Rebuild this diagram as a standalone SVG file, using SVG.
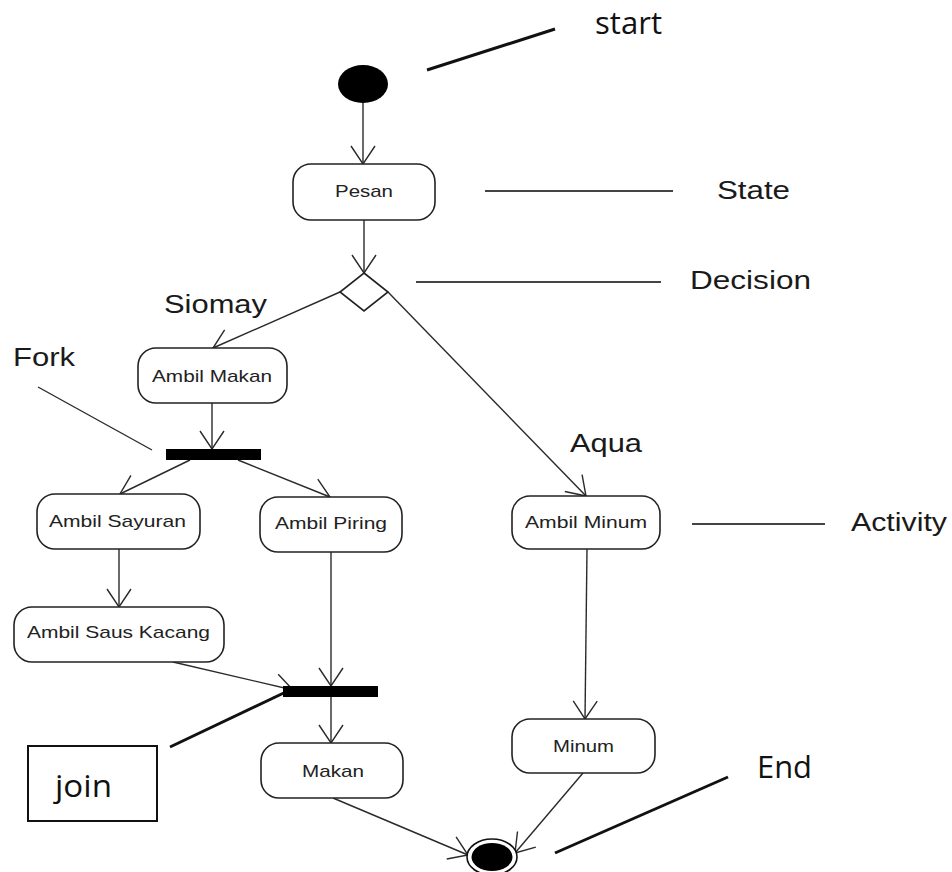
<svg xmlns="http://www.w3.org/2000/svg" width="952" height="872" viewBox="0 0 952 872">
  <defs>
    <marker id="open-arrow" markerUnits="userSpaceOnUse" markerWidth="40" markerHeight="40" viewBox="-20 -20 40 40" refX="0" refY="0" orient="auto">
      <path d="M -18,-12 L 0,0 L -18,12" fill="none" stroke="#2a2a2a" stroke-width="1.4"/>
    </marker>
    <style>
      .act { fill: #ffffff; stroke: #222222; stroke-width: 1.6; }
      .lbl { font-family: "Liberation Sans", Arial, sans-serif; font-size: 17px; fill: #222222; text-anchor: start; }
      .guard { font-family: "Liberation Sans", Arial, sans-serif; font-size: 25px; fill: #1a1a1a; }
      .note { font-family: "Open Sans", "Liberation Sans", sans-serif; font-size: 31px; fill: #111111; }
      .flow { fill: none; stroke: #2a2a2a; stroke-width: 1.4; marker-end: url(#open-arrow); }
      .plain { fill: none; stroke: #2a2a2a; stroke-width: 1.4; }
      .thin-lead { fill: none; stroke: #444444; stroke-width: 1.8; }
      .bold-lead { fill: none; stroke: #111111; stroke-width: 3; }
      .bar { fill: #000000; }
    </style>
  </defs>
  <rect width="952" height="872" fill="#ffffff"/>

  <!-- control flows -->
  <g id="connectors">
    <path class="flow" d="M 363,103 L 363,164"/>
    <path class="flow" d="M 364,220 L 364,273"/>
    <path class="flow" d="M 340,292 L 213,348"/>
    <path class="flow" d="M 388,292 L 586,496"/>
    <path class="flow" d="M 212,403 L 212,449"/>
    <path class="flow" d="M 190,460 L 120,494"/>
    <path class="flow" d="M 238,460 L 330,497"/>
    <path class="flow" d="M 119,549 L 119,607"/>
    <path class="flow" d="M 331,552 L 331,686"/>
    <path class="flow" d="M 173,662 L 293,690"/>
    <path class="flow" d="M 331,697 L 331,743"/>
    <path class="flow" d="M 587,549 L 585,719"/>
    <path class="flow" d="M 333,798 L 468,855"/>
    <path class="flow" d="M 583,773 L 515,853"/>
  </g>

  <!-- annotation leaders -->
  <g id="annotations">
    <line class="bold-lead" x1="427" y1="70" x2="555" y2="29"/>
    <line class="thin-lead" x1="485" y1="191" x2="673" y2="191"/>
    <line class="thin-lead" x1="416" y1="282" x2="661" y2="282"/>
    <line class="plain" x1="38" y1="387" x2="152" y2="450"/>
    <line class="thin-lead" x1="692" y1="524" x2="825" y2="524"/>
    <line class="bold-lead" x1="170" y1="747" x2="290" y2="690"/>
    <line class="bold-lead" x1="555" y1="853" x2="728" y2="777"/>
    <text class="note" x="595" y="34" textLength="67" lengthAdjust="spacingAndGlyphs">start</text>
    <text class="guard" x="717" y="199" textLength="73" lengthAdjust="spacingAndGlyphs">State</text>
    <text class="guard" x="690" y="289" textLength="121" lengthAdjust="spacingAndGlyphs">Decision</text>
    <text class="guard" x="13" y="366" textLength="62" lengthAdjust="spacingAndGlyphs">Fork</text>
    <text class="guard" x="851" y="531" textLength="96" lengthAdjust="spacingAndGlyphs">Activity</text>
    <text class="note" x="757" y="778" textLength="55" lengthAdjust="spacingAndGlyphs">End</text>
  </g>

  <!-- guard labels -->
  <g id="guards">
    <text class="guard" x="164" y="313" textLength="103" lengthAdjust="spacingAndGlyphs">Siomay</text>
    <text class="guard" x="570" y="452" textLength="72" lengthAdjust="spacingAndGlyphs">Aqua</text>
  </g>

  <g id="start-node">
    <ellipse cx="363" cy="84" rx="25" ry="19" fill="#000000"/>
  </g>

  <g id="pesan">
    <rect class="act" x="293" y="164" width="142" height="56" rx="18"/>
    <text class="lbl" x="335" y="197" textLength="58" lengthAdjust="spacingAndGlyphs">Pesan</text>
  </g>

  <g id="decision">
    <polygon points="364,273 388,292 364,311 340,292" fill="#ffffff" stroke="#222222" stroke-width="1.6"/>
  </g>

  <g id="ambil-makan">
    <rect class="act" x="138" y="348" width="149" height="55" rx="18"/>
    <text class="lbl" x="152" y="382" textLength="120" lengthAdjust="spacingAndGlyphs">Ambil Makan</text>
  </g>

  <g id="fork">
    <rect class="bar" x="166" y="449" width="95" height="11"/>
  </g>

  <g id="ambil-sayuran">
    <rect class="act" x="37" y="494" width="163" height="55" rx="18"/>
    <text class="lbl" x="49" y="527" textLength="137" lengthAdjust="spacingAndGlyphs">Ambil Sayuran</text>
  </g>

  <g id="ambil-piring">
    <rect class="act" x="260" y="497" width="142" height="55" rx="18"/>
    <text class="lbl" x="275" y="529" textLength="112" lengthAdjust="spacingAndGlyphs">Ambil Piring</text>
  </g>

  <g id="ambil-saus-kacang">
    <rect class="act" x="14" y="607" width="210" height="55" rx="18"/>
    <text class="lbl" x="27" y="638" textLength="183" lengthAdjust="spacingAndGlyphs">Ambil Saus Kacang</text>
  </g>

  <g id="join">
    <rect class="bar" x="283" y="686" width="95" height="11"/>
  </g>

  <g id="join-label">
    <rect x="28" y="746" width="129" height="75" fill="#ffffff" stroke="#111111" stroke-width="2"/>
    <text class="note" x="55" y="797" textLength="57" lengthAdjust="spacingAndGlyphs">join</text>
  </g>

  <g id="makan">
    <rect class="act" x="261" y="743" width="142" height="55" rx="18"/>
    <text class="lbl" x="302" y="777" textLength="62" lengthAdjust="spacingAndGlyphs">Makan</text>
  </g>

  <g id="ambil-minum">
    <rect class="act" x="512" y="496" width="148" height="53" rx="18"/>
    <text class="lbl" x="525" y="528" textLength="122" lengthAdjust="spacingAndGlyphs">Ambil Minum</text>
  </g>

  <g id="minum">
    <rect class="act" x="512" y="719" width="143" height="54" rx="18"/>
    <text class="lbl" x="553" y="752" textLength="61" lengthAdjust="spacingAndGlyphs">Minum</text>
  </g>

  <g id="end-node">
    <ellipse cx="492" cy="857" rx="25" ry="18" fill="#ffffff" stroke="#111111" stroke-width="1.6"/>
    <ellipse cx="492" cy="857" rx="20.5" ry="14" fill="#000000"/>
  </g>
</svg>
